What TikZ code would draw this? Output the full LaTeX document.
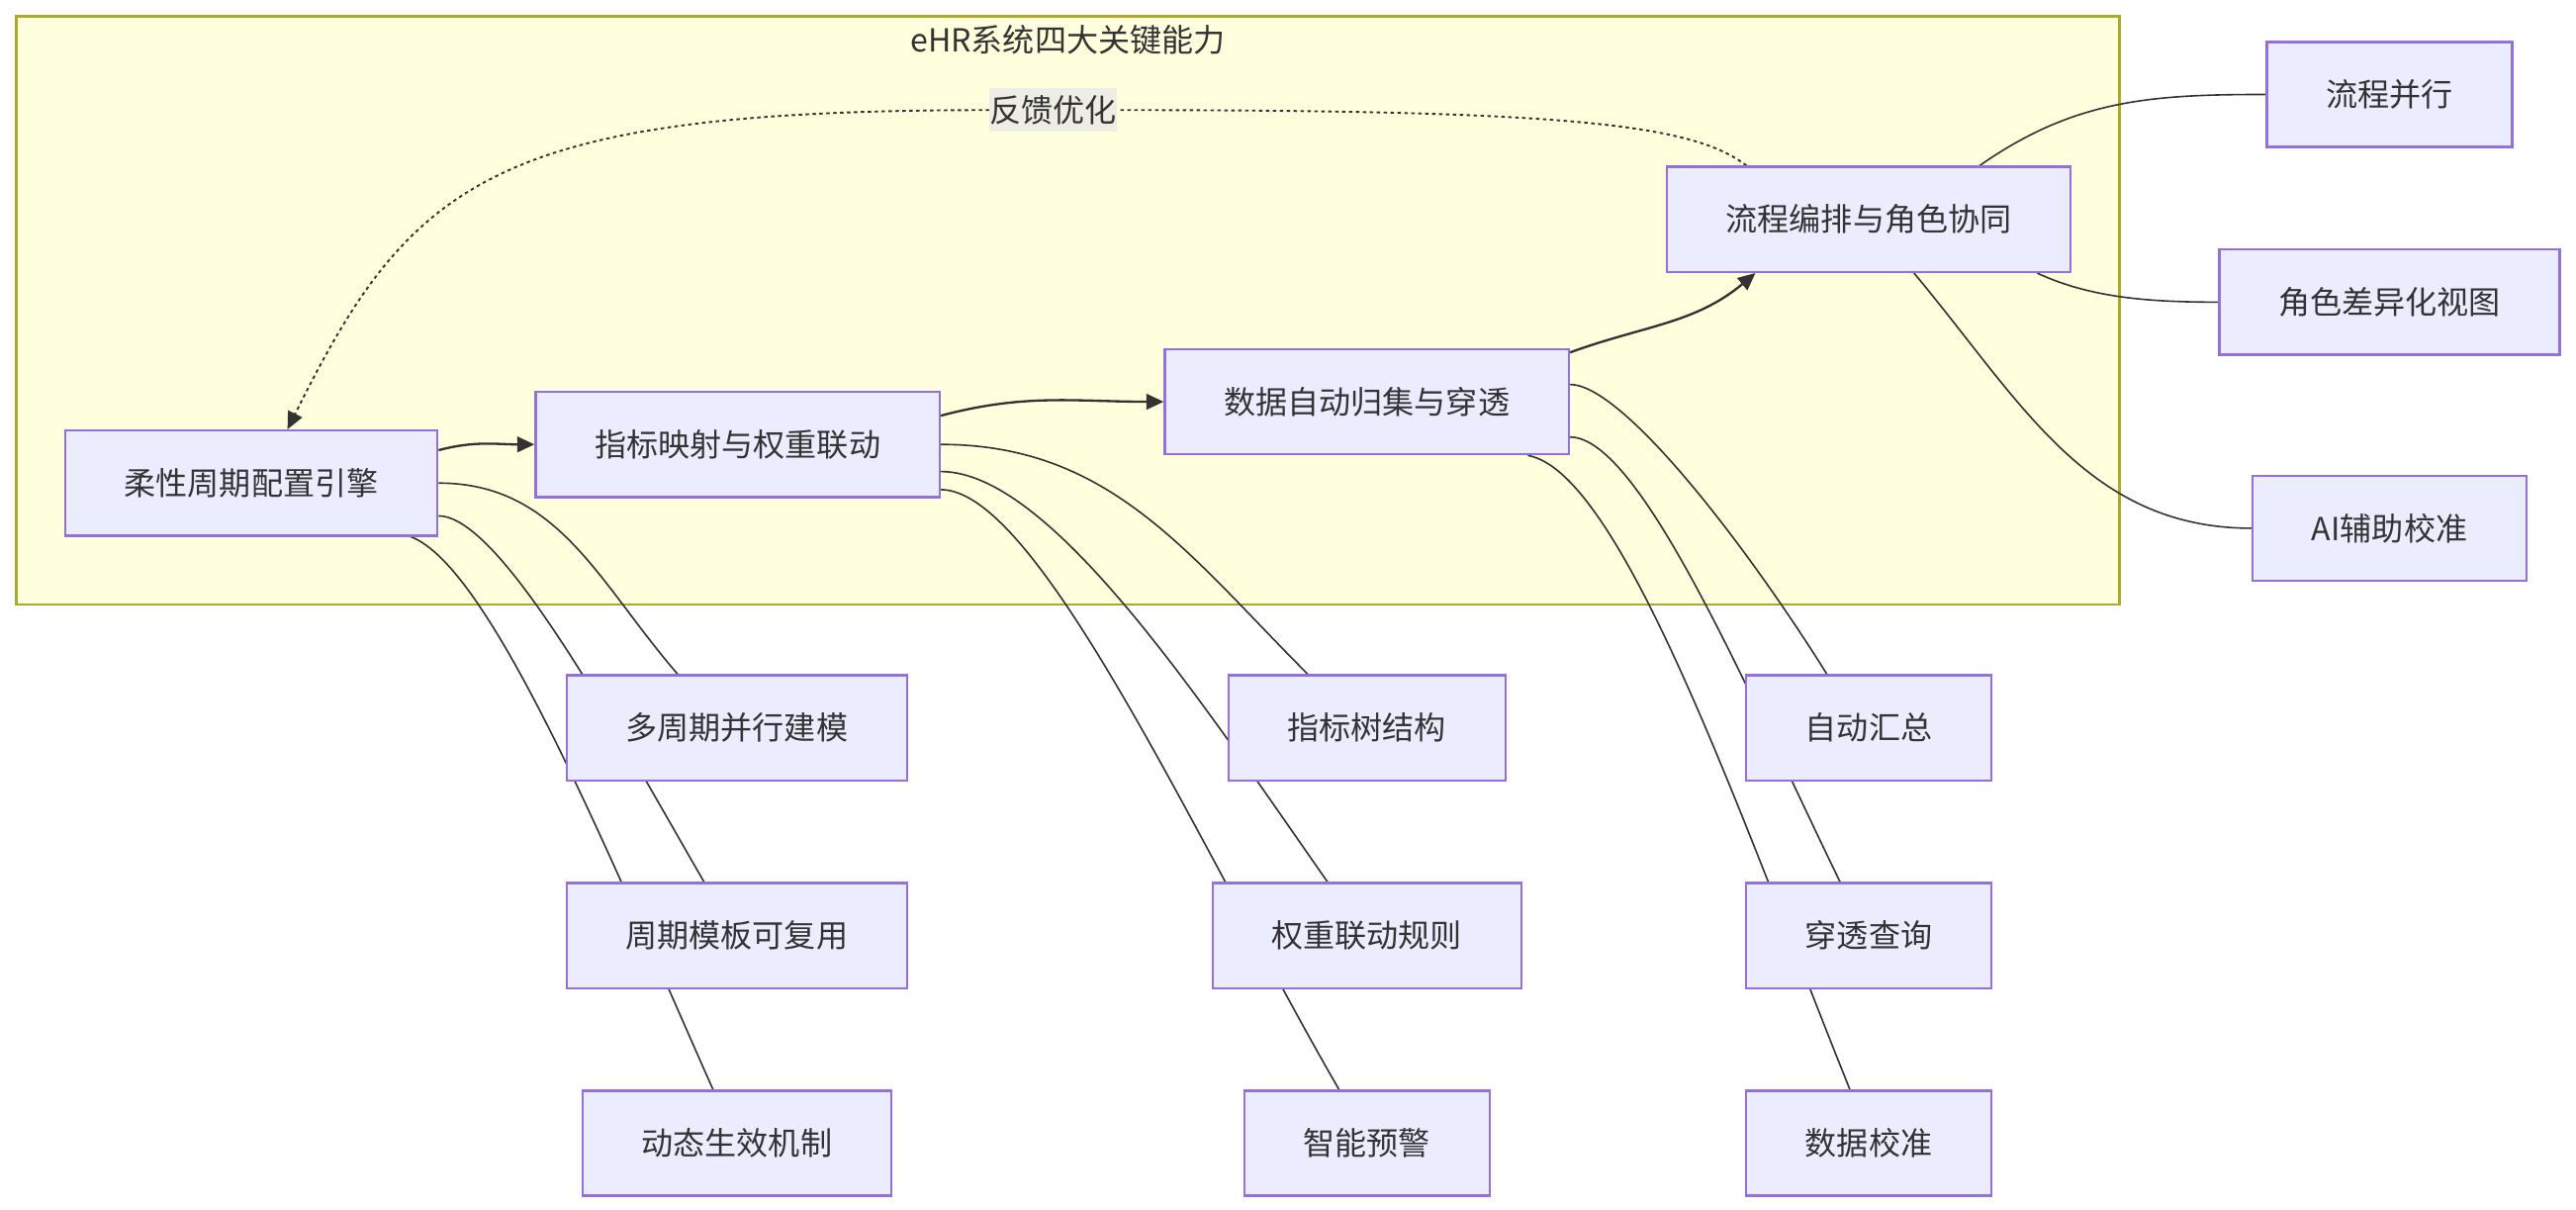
\documentclass[tikz,border=0pt]{standalone}
\usepackage{fontspec}
\setmainfont{Noto Sans CJK SC}
\usetikzlibrary{arrows.meta,positioning,calc}
\definecolor{boxfill}{HTML}{ECECFF}
\definecolor{boxline}{HTML}{9370DB}
\definecolor{grpfill}{HTML}{FFFFDE}
\definecolor{grpline}{HTML}{AAAA33}
\definecolor{ink}{HTML}{333333}
\definecolor{lblfill}{HTML}{EDEDE6}
\pgfdeclarelayer{bg}
\pgfsetlayers{bg,main}

\begin{document}
\begin{tikzpicture}[x=.02cm,y=-.02cm,>={Triangle[length=6pt,width=5.4pt]},node distance=1.22cm,every node/.style={font=\fontsize{11}{13}\selectfont,text=ink}]
\tikzstyle{n}=[draw=boxline,fill=boxfill,line width=.8pt,minimum height=1.28cm,inner xsep=.72cm,inner ysep=0pt]
\tikzstyle{ln}=[draw=ink,line width=.55pt,out looseness=.35]
\tikzstyle{main}=[draw=ink,line width=.8pt,->]
\tikzstyle{fbline}=[draw=ink,line width=.65pt,dash pattern=on 1.2pt off 1.2pt]
\useasboundingbox (0,0) rectangle (1568,736);
\node (title) at (650,24) {eHR系统四大关键能力};
\node[n] (cyc) at (153,294) {柔性周期配置引擎};
\node[n] (kpi) at (449,270.5) {指标映射与权重联动};
\node[n] (data) at (832,244.5) {数据自动归集与穿透};
\node[n] (flow) at (1137.5,133.5) {流程编排与角色协同};
\node[n] (par) at (1454.5,57.5) {流程并行};
\node[n,below=of par] (view) {角色差异化视图};
\node[n] (ai) at (1454.5,321.5) {AI辅助校准};
\node[n] (multi) at (448.5,443) {多周期并行建模};
\node[n,below=of multi] (tpl) {周期模板可复用};
\node[n,below=of tpl] (eff) {动态生效机制};
\node[n] (tree) at (832,443) {指标树结构};
\node[n,below=of tree] (rule) {权重联动规则};
\node[n,below=of rule] (warn) {智能预警};
\node[n] (sum) at (1137.5,443) {自动汇总};
\node[n,below=of sum] (drill) {穿透查询};
\node[n,below=of drill] (calib) {数据校准};
\node[fill=lblfill,inner xsep=0pt,inner ysep=2.5pt] (fb) at (641,67) {反馈优化};
\begin{pgfonlayer}{bg}
\draw[fill=grpfill,draw=grpline,line width=.8pt] (10,10) rectangle (1290,368);
\draw[main] ([yshift=.4cm]cyc.east) to[out=15,in=180] (kpi.west);
\draw[main] ([yshift=.35cm]kpi.east) to[out=15,in=180] (data.west);
\draw[main] ([yshift=.6cm]data.east) to[out=20,in=-140] ([xshift=-1.38cm]flow.south);
\draw[fbline] ([xshift=-1.49cm]flow.north) .. controls (1030,75) and (950,67) .. (fb.east);
\draw[fbline,->] (fb.west) .. controls (300,67) and (250,110) .. ([xshift=.44cm]cyc.north);
\draw[ln,out looseness=1] (cyc.east) to[out=0,in=131] ([xshift=-.72cm]multi.north);
\draw[ln] ([yshift=-.4cm]cyc.east) to[out=0,in=120] ([xshift=-.4cm]tpl.north);
\draw[ln] ([xshift=1.94cm]cyc.south) to[out=-20,in=114] ([xshift=-.29cm]eff.north);
\draw[ln,out looseness=1] (kpi.east) to[out=0,in=135] ([xshift=-.72cm]tree.north);
\draw[ln,out looseness=.5] ([yshift=-.33cm]kpi.east) to[out=0,in=125] ([xshift=-.48cm]rule.north);
\draw[ln] ([yshift=-.55cm]kpi.east) to[out=0,in=120] ([xshift=-.34cm]warn.north);
\draw[ln] ([yshift=.21cm]data.east) to[out=0,in=122] ([xshift=-.51cm]sum.north);
\draw[ln] ([yshift=-.43cm]data.east) to[out=0,in=116] ([xshift=-.35cm]drill.north);
\draw[ln] ([xshift=1.96cm]data.south) to[out=-10,in=112] ([xshift=-.23cm]calib.north);
\draw[ln,out looseness=1] ([xshift=1.35cm]flow.north) to[out=35,in=180] (par.west);
\draw[ln,out looseness=.8] ([xshift=2.05cm]flow.south) to[out=-25,in=180] (view.west);
\draw[ln,out looseness=1] ([xshift=.55cm]flow.south) to[out=-50,in=180] (ai.west);
\end{pgfonlayer}
\end{tikzpicture}
\end{document}
